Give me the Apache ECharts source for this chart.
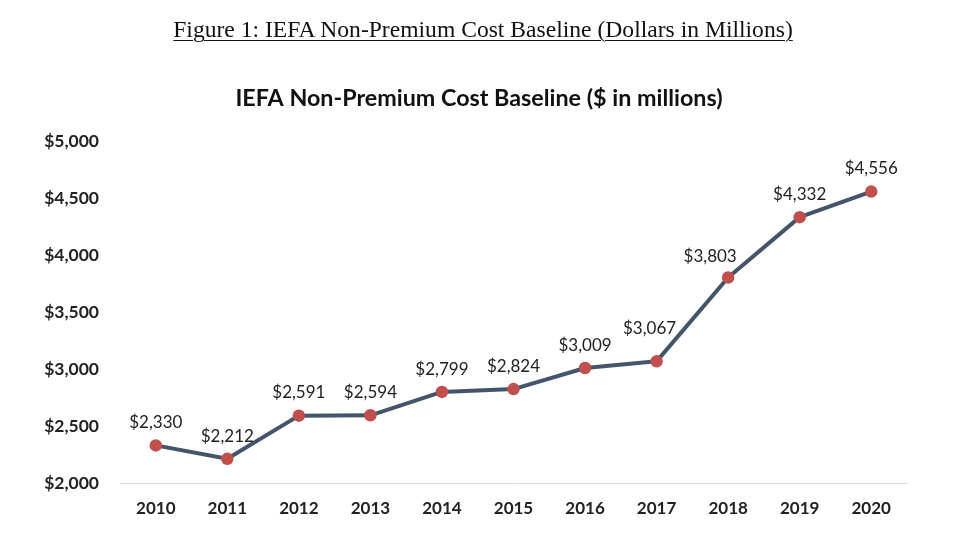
<!DOCTYPE html>
<html>
<head>
<meta charset="utf-8">
<script src="https://cdn.jsdelivr.net/npm/echarts@6/dist/echarts.min.js"></script>
<style>
html,body{margin:0;padding:0;background:#fff;}
#wrap{position:relative;width:958px;height:554px;}
#fig{position:absolute;left:0;top:16px;width:958px;text-align:center;font-family:"Liberation Serif","DejaVu Serif",serif;font-size:23.6px;color:#111;transform:translateX(4px);}
#fig span{text-decoration:underline;text-underline-offset:3px;text-decoration-thickness:1px;}
#chart{position:absolute;left:0;top:0;width:958px;height:554px;}
</style>
</head>
<body>
<div id="wrap">
<div id="chart"></div>
<div id="fig"><span id="figText"></span></div>
</div>
<script>
const figureTitle = "Figure 1: IEFA Non-Premium Cost Baseline (Dollars in Millions)";
const chartTitle = "IEFA Non-Premium Cost Baseline ($ in millions)";
const years = ["2010","2011","2012","2013","2014","2015","2016","2017","2018","2019","2020"];
const costs = [2330, 2212, 2591, 2594, 2799, 2824, 3009, 3067, 3803, 4332, 4556];

document.getElementById('figText').textContent = figureTitle;
const labelOffsets = {7: [-7, -10], 8: [-18, 2]};

const chart = echarts.init(document.getElementById('chart'));
const fmt = v => '$' + v.toLocaleString('en-US');
chart.setOption({
  animation: false,
  backgroundColor: '#fff',
  title: {
    text: chartTitle,
    left: 'center',
    top: 82,
    textStyle: {fontFamily: 'Lato', fontWeight: 'bold', fontSize: 23.3, color: '#111'}
  },
  grid: {left: 120, right: 51, top: 141, bottom: 71},
  xAxis: {
    type: 'category',
    data: years,
    boundaryGap: true,
    axisLine: {lineStyle: {color: '#d9d9d9', width: 1}},
    axisTick: {show: false},
    axisLabel: {fontFamily: 'Lato', fontWeight: 'bold', fontSize: 17, color: '#222', margin: 17}
  },
  yAxis: {
    type: 'value',
    min: 2000, max: 5000, interval: 500,
    splitLine: {show: false},
    axisLine: {show: false},
    axisTick: {show: false},
    axisLabel: {fontFamily: 'Lato', fontWeight: 'bold', fontSize: 17.5, color: '#222', margin: 21,
      formatter: v => fmt(v)}
  },
  series: [{
    type: 'line',
    data: costs.map((v, i) => labelOffsets[i] ? {value: v, label: {offset: labelOffsets[i]}} : v),
    symbol: 'circle',
    symbolSize: 12.5,
    lineStyle: {color: '#44546a', width: 4},
    itemStyle: {color: '#c0504d'},
    label: {show: true, position: 'top', distance: 8, formatter: p => fmt(p.value),
      fontFamily: 'Lato', fontSize: 17, color: '#222'}
  }]
});
</script>
</body>
</html>
